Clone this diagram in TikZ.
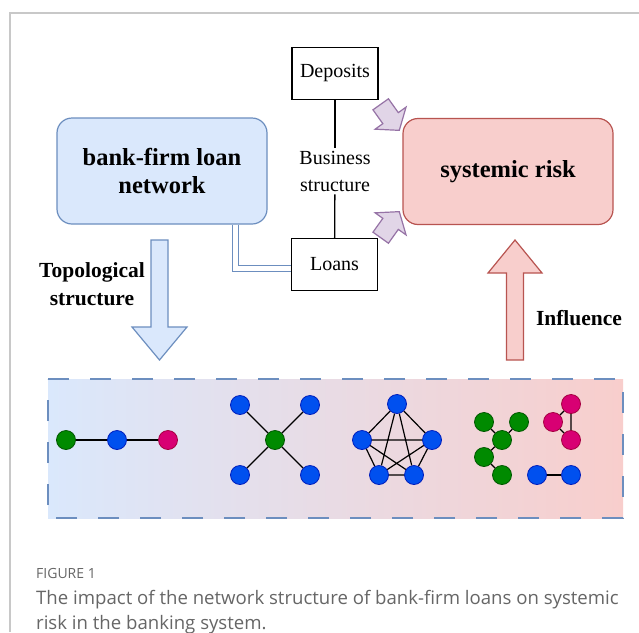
\documentclass[tikz,border=0pt]{standalone}
\usepackage{fontspec}
\setmainfont{Liberation Serif}
\newfontfamily\capfont{Open Sans}
\usetikzlibrary{calc}
\definecolor{bfill}{HTML}{DAE8FC}
\definecolor{bdraw}{HTML}{6C8EBF}
\definecolor{rfill}{HTML}{F8CECC}
\definecolor{rdraw}{HTML}{B85450}
\definecolor{pfill}{HTML}{E1D5E7}
\definecolor{pdraw}{HTML}{9673A6}
\definecolor{gnf}{HTML}{008A00}
\definecolor{gnd}{HTML}{005700}
\definecolor{blf}{HTML}{0050EF}
\definecolor{bld}{HTML}{001DBC}
\definecolor{mgf}{HTML}{D80073}
\definecolor{mgd}{HTML}{A50040}
\definecolor{framegray}{HTML}{C8C8C8}
\definecolor{capgray}{HTML}{666666}
\tikzset{
  rbox/.style={rounded corners=15pt, line width=1.2pt, minimum width=210pt, minimum height=106pt, align=center, font=\fontsize{24.5}{28}\selectfont\bfseries},
  plainbox/.style={draw=black, line width=1.3pt, minimum width=86pt, minimum height=52pt, font=\fontsize{20}{24}\selectfont},
  gr/.style={circle, minimum size=19pt, inner sep=0pt, line width=0.8pt},
  gnode/.style={gr, fill=gnf, draw=gnd},
  bnode/.style={gr, fill=blf, draw=bld},
  mnode/.style={gr, fill=mgf, draw=mgd},
  edge/.style={line width=1.2pt, black},
  parrow/.style={fill=pfill, draw=pdraw, line width=1.2pt, line join=miter},
  sidelabel/.style={align=center, font=\fontsize{21.5}{28}\selectfont\bfseries},
}
\begin{document}
\begin{tikzpicture}[x=1pt,y=-1pt]
\useasboundingbox (0,0) rectangle (639,632);
\fill[white] (0,0) rectangle (639,632);
% frame
\draw[framegray, line width=1.5pt] (10,632) -- (10,13) -- (639,13);

% main boxes
\node[rbox, fill=bfill, draw=bdraw] (bfl) at (162,171) {bank-firm loan\\network};
\node[rbox, fill=rfill, draw=rdraw] (sr) at (508,171.5) {systemic risk};

% business structure
\node[plainbox] (dep) at (335,73.5) {Deposits};
\node[plainbox] (loans) at (334.5,264.5) {Loans};
\node[align=center, font=\fontsize{20}{27}\selectfont, inner sep=3pt] (bs) at (335,171) {Business\\structure};
\draw[line width=1.3pt] (dep) -- (bs);
\draw[line width=1.3pt] (bs) -- (loans);

% double connector
\draw[bdraw, double=white, double distance=5pt, line width=1.3pt]
  ($(bfl.south east)+(-32,0)$) |- ([yshift=-4pt]loans.west);

% purple arrows
\begin{scope}[shift={(380.7,104.3)}, rotate=-54.5]
  \draw[parrow] (0,-9.5) -- (17,-9.5) -- (17,-19) -- (32,0) -- (17,19) -- (17,9.5) -- (0,9.5) -- cycle;
\end{scope}
\begin{scope}[shift={(380.7,237.7)}, rotate=54.5]
  \draw[parrow] (0,-9.5) -- (17,-9.5) -- (17,-19) -- (32,0) -- (17,19) -- (17,9.5) -- (0,9.5) -- cycle;
\end{scope}

% block arrows
\draw[fill=bfill, draw=bdraw, line width=1.2pt] (151,240) -- (168,240) -- (168,327) -- (187,327) -- (159.5,360) -- (132,327) -- (151,327) -- cycle;
\node[sidelabel] (topo) at (92,284) {Topological\\structure};
\draw[fill=rfill, draw=rdraw, line width=1.2pt] (506.5,360) -- (523.5,360) -- (523.5,273) -- (542,273) -- (515,240) -- (488,273) -- (506.5,273) -- cycle;
\node[sidelabel] (infl) at (579,318) {Influence};

% strip
\path[left color=bfill, right color=rfill] (48,379) rectangle (623,518);
\draw[bdraw, line width=1.3pt, dash pattern=on 21pt off 21pt] (48,379) -- (623,379) -- (623,518) -- (48,518) -- cycle;

% graph 1: chain
\node[gnode] (a1) at (66,440) {};
\node[bnode] (a2) at (117,440) {};
\node[mnode] (a3) at (168,440) {};
\draw[edge] (a1) -- (a2) (a2) -- (a3);

% graph 2: star
\node[gnode] (s0) at (275,440) {};
\node[bnode] (s1) at (240,405) {};
\node[bnode] (s2) at (310,405) {};
\node[bnode] (s3) at (240,475) {};
\node[bnode] (s4) at (310,475) {};
\foreach \i in {1,...,4} \draw[edge] (s0) -- (s\i);

% graph 3: complete K5
\node[bnode] (k1) at (397,404) {};
\node[bnode] (k2) at (432,440) {};
\node[bnode] (k3) at (414,475) {};
\node[bnode] (k4) at (379,475) {};
\node[bnode] (k5) at (362,440) {};
\draw[edge] (k1) -- (k2) (k1) -- (k3) (k1) -- (k4) (k1) -- (k5)
  (k2) -- (k3) (k2) -- (k4) (k2) -- (k5)
  (k3) -- (k4) (k3) -- (k5) (k4) -- (k5);

% graph 4: components
\node[gnode] (t1) at (484,422) {};
\node[gnode] (t2) at (519,422) {};
\node[gnode] (t3) at (502,440) {};
\node[gnode] (t4) at (484,457) {};
\node[gnode] (t5) at (502,475) {};
\draw[edge] (t1) -- (t3) (t2) -- (t3) (t3) -- (t4) (t4) -- (t5);
\node[mnode] (m1) at (571,404) {};
\node[mnode] (m2) at (553,422) {};
\node[mnode] (m3) at (571,440) {};
\draw[edge] (m2) -- (m1) (m2) -- (m3) (m1) -- (m3);
\node[bnode] (p1) at (537,475) {};
\node[bnode] (p2) at (571,475) {};
\draw[edge] (p1) -- (p2);

% caption
\node[anchor=base west, inner sep=0pt, text=capgray, font=\capfont\fontsize{14}{16}\selectfont] (figlab) at (36,578) {FIGURE 1};
\node[anchor=base west, inner sep=0pt, text=capgray, align=left, font=\capfont\fontsize{18.6}{25}\selectfont] (cap) at (36,629) {The impact of the network structure of bank-firm loans on systemic\\risk in the banking system.};
\end{tikzpicture}
\end{document}
